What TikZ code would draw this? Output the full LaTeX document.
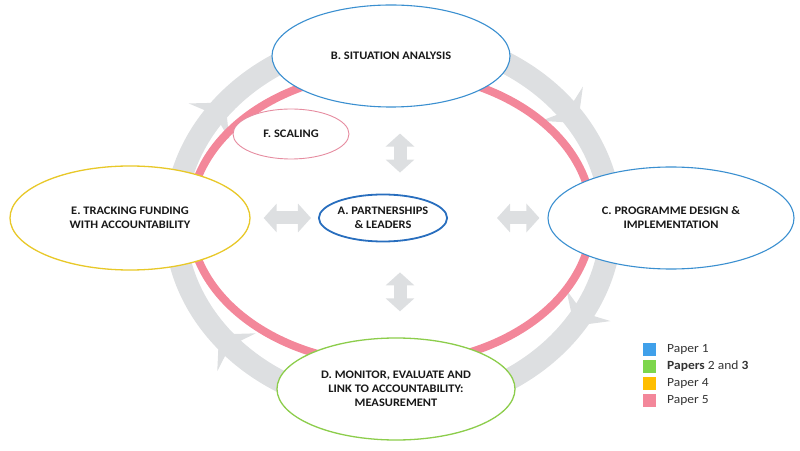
\documentclass[tikz,border=0pt]{standalone}
\usepackage{fontspec}
\setmainfont{Carlito}[FakeStretch=1.08]
\usetikzlibrary{arrows.meta,shapes.geometric,calc}
\definecolor{ringgray}{RGB}{221,223,225}
\definecolor{ringpink}{RGB}{243,135,154}
\definecolor{bluelite}{RGB}{58,143,208}
\definecolor{bluedark}{RGB}{40,110,190}
\definecolor{yellowline}{RGB}{232,200,40}
\definecolor{greenline}{RGB}{140,205,75}
\definecolor{pinkline}{RGB}{230,140,160}
\definecolor{legblue}{RGB}{64,160,234}
\definecolor{leggreen}{RGB}{125,214,76}
\definecolor{legyellow}{RGB}{255,190,0}
\definecolor{legpink}{RGB}{243,135,154}
\tikzset{
  stage/.style={ellipse, draw, fill=white, inner sep=0pt, align=center,
    font=\bfseries\fontsize{11.5}{14}\selectfont, text=black!90},
  dbl/.style={draw=ringgray, line width=13pt,
    {Triangle[width=28pt,length=13pt]}-{Triangle[width=28pt,length=13pt]}},
  legsq/.style={minimum size=13pt, inner sep=0pt},
  legtxt/.style={anchor=west, inner sep=0pt, font=\fontsize{12.5}{14}\selectfont, text=black!80}
}
\begin{document}
\begin{tikzpicture}[x=1pt,y=1pt]
\useasboundingbox (0,0) rectangle (800,450);
% gray cycle ring
\draw[ringgray, line width=22pt] (393,228) ellipse [x radius=218, y radius=186];
\foreach \t in {143,35,-31,220} {
  \pgfmathsetmacro\px{393+218*cos(\t)}
  \pgfmathsetmacro\py{228+186*sin(\t)}
  \pgfmathsetmacro\ang{atan2(-186*cos(\t),218*sin(\t))}
  \fill[ringgray, shift={(\px,\py)}, rotate=\ang]
    (10,0) -- (-15,27) -- (-6,0) -- (-15,-27) -- cycle;
}
% pink ring
\draw[ringpink, line width=8pt] (391,232) ellipse [x radius=201, y radius=146];
% stages
\node[stage, draw=bluelite, line width=1.1pt, minimum width=238pt, minimum height=102pt] (B) at (391,394) {B. SITUATION ANALYSIS};
\node[stage, draw=yellowline, line width=1.3pt, minimum width=240pt, minimum height=104pt] (E) at (130,232) {E. TRACKING FUNDING\\WITH ACCOUNTABILITY};
\node[stage, draw=bluelite, line width=1.1pt, minimum width=246pt, minimum height=102pt] (C) at (671,232) {C. PROGRAMME DESIGN \&\\IMPLEMENTATION};
\node[stage, draw=greenline, line width=1.3pt, minimum width=238pt, minimum height=102pt] (D) at (396,61) {D. MONITOR, EVALUATE AND\\LINK TO ACCOUNTABILITY:\\MEASUREMENT};
\node[stage, draw=bluedark, line width=1.8pt, minimum width=122pt, minimum height=47pt] (A) at (383,232) {A. PARTNERSHIPS\\\& LEADERS};
\node[stage, draw=pinkline, line width=0.9pt, minimum width=116pt, minimum height=50pt] (F) at (291,316) {F. SCALING};
% double arrows
\coordinate (vx) at (400,0);
\draw[dbl, shorten <=13pt, shorten >=7pt] (E.east) -- (A.west);
\draw[dbl, shorten <=49pt, shorten >=8pt] (A.east) -- (C.west);
\draw[dbl, shorten <=26pt, shorten >=21pt] (B.south -| vx) -- (A.north -| vx);
\draw[dbl, shorten <=30pt, shorten >=26pt] (A.south -| vx) -- (D.north -| vx);
% legend
\node[legsq, fill=legblue] (l1) at (649.5,101) {};
\node[legsq, fill=leggreen] (l2) at (649.5,84) {};
\node[legsq, fill=legyellow] (l3) at (649.5,67) {};
\node[legsq, fill=legpink] (l4) at (649.5,50) {};
\node[legtxt] (t1) at (667,101) {Paper 1};
\node[legtxt] (t2) at (667,84) {\textbf{Papers} 2 and \textbf{3}};
\node[legtxt] (t3) at (667,67) {Paper 4};
\node[legtxt] (t4) at (667,50) {Paper 5};
\end{tikzpicture}
\end{document}
